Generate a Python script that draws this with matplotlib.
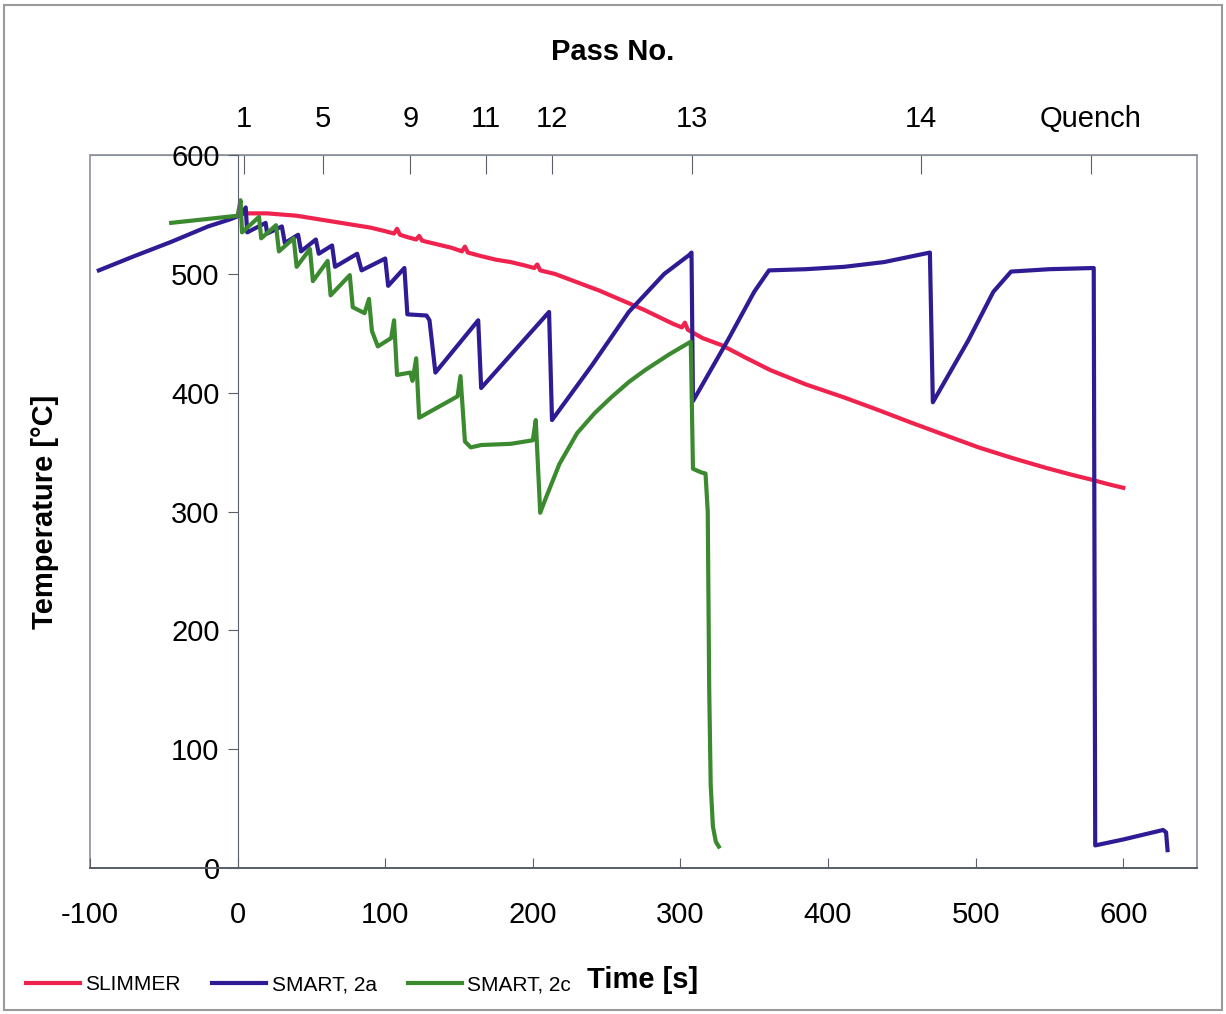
import matplotlib
matplotlib.use('Agg')
import matplotlib.pyplot as plt
from matplotlib.patches import Rectangle

plt.rcParams['font.family'] = ['Liberation Sans', 'DejaVu Sans']
plt.rcParams['axes.unicode_minus'] = False

# SLIMMER (time [s], temperature [C])
slimmer_t = [3, 10, 20, 30, 40, 50, 60, 70, 80, 90,
             100, 106, 108, 110, 115, 121, 123, 125, 135, 145,
             152, 154, 156, 165, 175, 185, 195, 201, 203, 205,
             215, 230, 245, 260, 275, 285, 295, 301, 303, 305,
             315, 328, 345, 361, 385, 411, 435, 456, 480, 502,
             525, 547, 565, 578, 590, 600]
slimmer_T = [551, 551, 551, 550, 549, 547, 545, 543, 541, 539,
             536, 534, 538, 533, 531, 529, 532, 528, 525, 522,
             519, 523, 518, 515, 512, 510, 507, 505, 508, 503,
             500, 493, 486, 478, 470, 464, 458, 455, 459, 453,
             446, 440, 429, 419, 407, 396, 385, 375, 364, 354,
             345, 337, 331, 327, 323, 320]

# SMART, 2a
smart2a_t = [-94, -70, -45, -20, -5, 3, 5.5, 6.5, 19, 20,
             30, 32, 41, 43, 53, 55, 64, 66, 81, 84,
             100, 102, 113, 115, 128, 130, 134, 163, 165, 211,
             213, 240, 265, 289, 306, 307.5, 308.5, 332, 350, 360,
             385, 411, 438, 469, 471, 495, 512, 524, 550, 580,
             581, 600, 627, 629, 630]
smart2a_T = [503, 515, 527, 540, 546, 550, 556, 535, 543, 534,
             540, 526, 533, 519, 529, 517, 524, 506, 517, 503,
             513, 490, 505, 466, 465, 461, 417, 461, 404, 468,
             377, 423, 468, 500, 516, 518, 393, 444, 485, 503,
             504, 506, 510, 518, 392, 444, 485, 502, 504, 505,
             19, 24, 32, 30, 15]

# SMART, 2c
smart2c_t = [-45, -30, -15, 0, 2, 3, 14.5, 16, 26, 28,
             38, 40, 49, 51, 61, 63, 76, 78, 86, 89,
             91, 95, 104, 106, 108, 117, 118.5, 121, 123, 149,
             151, 154, 158, 165, 185, 200, 202, 205, 209, 218,
             230, 242, 253, 265, 276, 292, 307, 308.5, 314, 317,
             318.5, 319.5, 320.5, 322, 324, 326]
smart2c_T = [543, 545, 547, 549, 562, 535, 548, 530, 541, 519,
             530, 506, 521, 494, 511, 482, 499, 472, 467, 479,
             452, 439, 446, 461, 415, 417, 410, 429, 379, 397,
             414, 359, 354, 356, 357, 360, 377, 299, 312, 340,
             366, 383, 396, 409, 419, 432, 443, 336, 333, 332,
             300, 150, 70, 35, 22, 18]

# pass numbers on the top axis
pass_times = [4, 58, 117, 168, 213, 308, 463, 578]
pass_labels = ['1', '5', '9', '11', '12', '13', '14', 'Quench']

x_ticks = [-100, 0, 100, 200, 300, 400, 500, 600]
y_ticks = [0, 100, 200, 300, 400, 500, 600]

fig = plt.figure(figsize=(12.26, 10.14), dpi=100)
ax = fig.add_axes([0.0734, 0.144, 0.903, 0.703])

l1, = ax.plot(slimmer_t, slimmer_T, color='#f0234f', lw=3, label='SLIMMER')
l2, = ax.plot(smart2a_t, smart2a_T, color='#2f1c94', lw=3, label='SMART, 2a')
l3, = ax.plot(smart2c_t, smart2c_T, color='#3b8a2f', lw=3, label='SMART, 2c')

ax.set_xlim(-100, 650)
ax.set_ylim(0, 600)

for s in ['top', 'right']:
    ax.spines[s].set_visible(False)
ax.spines['left'].set_position(('data', 0))
ax.spines['left'].set_color('#5a5f6a')
ax.spines['bottom'].set_color('#5a5f6a')
ax.spines['bottom'].set_linewidth(1.4)
ax.add_patch(Rectangle((0, 0), 1, 1, transform=ax.transAxes, fill=False,
                       ec='#8a8f99', lw=1.2, clip_on=False, zorder=0.5))

ax.set_xticks(x_ticks)
ax.set_yticks(y_ticks)
ax.tick_params(axis='x', direction='in', length=7, pad=24, labelsize=21,
               color='#5a5f6a')
ax.tick_params(axis='y', direction='out', length=7, pad=6, labelsize=21,
               color='#5a5f6a')

sec = ax.secondary_xaxis('top')
sec.set_xticks(pass_times, labels=pass_labels)
sec.tick_params(direction='in', length=14, pad=16, labelsize=21, color='#5a5f6a')
sec.spines['top'].set_color('#8a8f99')

fig.text(0.037, 0.495, 'Temperature [°C]', rotation=90, fontweight='bold',
         fontsize=21, ha='center', va='center')
fig.text(0.5, 0.9487, 'Pass No.', fontweight='bold', fontsize=21,
         ha='center', va='center')
fig.text(0.5245, 0.0335, 'Time [s]', fontweight='bold', fontsize=21,
         ha='center', va='center')

fig.legend(handles=[l1, l2, l3], loc='center left', bbox_to_anchor=(0.006, 0.029),
           ncol=3, frameon=False, fontsize=15, handlelength=2.6,
           handletextpad=0.25, columnspacing=1.5)

fig.patches.append(Rectangle((0.003, 0.004), 0.994, 0.991, transform=fig.transFigure,
                             fill=False, ec='#9a9a9a', lw=1.5))

fig.savefig('out.png', dpi=100)
